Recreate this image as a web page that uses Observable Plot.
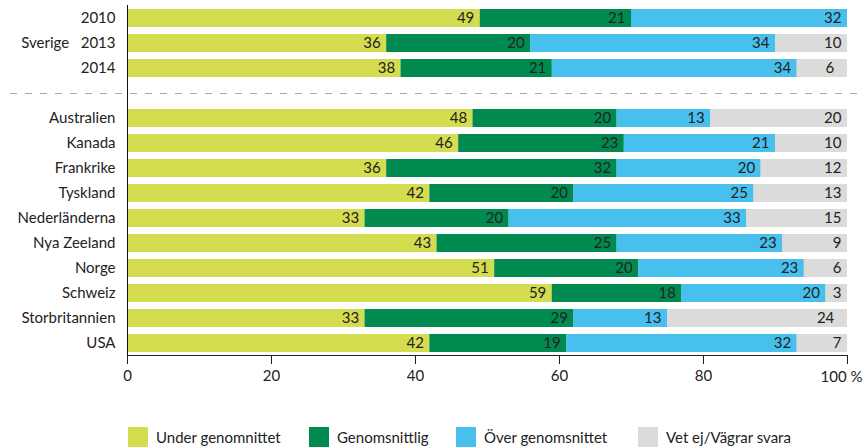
<!DOCTYPE html>
<html><head><meta charset="utf-8">
<script src="https://cdn.jsdelivr.net/npm/d3@7"></script>
<script src="https://cdn.jsdelivr.net/npm/@observablehq/plot@0.6"></script>
<style>
body{margin:0;background:#fff;font-family:Lato,sans-serif;}
#legend{position:relative;height:20px;margin-top:17px;font-size:15px;color:#222}
.item{position:absolute;top:0;display:flex;align-items:center;height:20px;white-space:nowrap}
.sw{width:20px;height:20px;margin-right:8px}
</style></head><body><div id="chart"></div><div id="legend"></div>
<script>
const gapKey = " ";
const categories = ["2010","2013","2014",gapKey,"Australien","Kanada","Frankrike","Tyskland","Nederländerna","Nya Zeeland","Norge","Schweiz","Storbritannien","USA"];
const seriesNames = ["Under genomnittet","Genomsnittlig","Över genomsnittet","Vet ej/Vägrar svara"];
const under = [49,36,38,null,48,46,36,42,33,43,51,59,33,42];
const genom = [21,20,21,null,20,23,32,20,20,25,20,18,29,19];
const over  = [32,34,34,null,13,21,20,25,33,23,23,20,13,32];
const vetej = [0,10,6,null,20,10,12,13,15,9,6,3,24,7];
const colors = ["#d4dc4f","#008a50","#47c0ee","#dbdbda"];
const xTicks = [0,20,40,60,80,100];
const lastTickLabel = "100 %";
const legendX = [128,309,456,638];

const values = [under, genom, over, vetej];
const data = [];
categories.forEach((c,i) => {
  if (c === gapKey) return;
  seriesNames.forEach((s,j) => {
    const v = values[j][i];
    if (v > 0) data.push({category: c, series: s, value: v});
  });
});
const barRows = categories.filter(c => c !== gapKey);
const lastTick = xTicks[xTicks.length - 1];

const chart = Plot.plot({
  width: 865, height: 410,
  marginLeft: 127, marginRight: 18, marginTop: 5, marginBottom: 55,
  style: {fontFamily: "Lato, sans-serif", fontSize: "15px", color: "#222", background: "#fff"},
  x: {domain: [0,100], clamp: true, ticks: xTicks, tickFormat: d => d === lastTick ? "" : String(d),
      label: null, tickSize: 9, tickPadding: 6, line: true},
  y: {domain: categories, paddingInner: 0.28, paddingOuter: 0.14, label: null, tickSize: 0, tickPadding: 12,
      tickFormat: d => d === "2013" ? "Sverige\u00a0\u00a0\u00a02013" : d},
  color: {domain: seriesNames, range: colors},
  marks: [
    Plot.barX(barRows, {y: d => d, x1: 0, x2: 100, fill: colors[3]}),
    Plot.barX(data, Plot.stackX({y: "category", x: "value", fill: "series", order: seriesNames})),
    Plot.text(data, Plot.stackX2({y: "category", x: "value", z: "series", order: seriesNames,
      text: d => String(d.value), textAnchor: "end", dx: -6, fill: "#222"})),
    Plot.ruleX([0], {stroke: "#111"}),
    Plot.ruleY([gapKey], {y: d => d, stroke: "#aaa", strokeDasharray: "7,8", insetLeft: -117, insetRight: -13}),
    Plot.text([lastTick], {x: d => d, frameAnchor: "bottom", lineAnchor: "top", dy: 16, dx: -6,
      text: () => lastTickLabel, fill: "#222"})
  ]
});
document.getElementById("chart").appendChild(chart);

const legend = document.getElementById("legend");
seriesNames.forEach((s,i) => {
  const it = document.createElement("div");
  it.className = "item";
  it.style.left = legendX[i] + "px";
  it.innerHTML = `<span class="sw" style="background:${colors[i]}"></span><span>${s}</span>`;
  legend.appendChild(it);
});
</script></body></html>
